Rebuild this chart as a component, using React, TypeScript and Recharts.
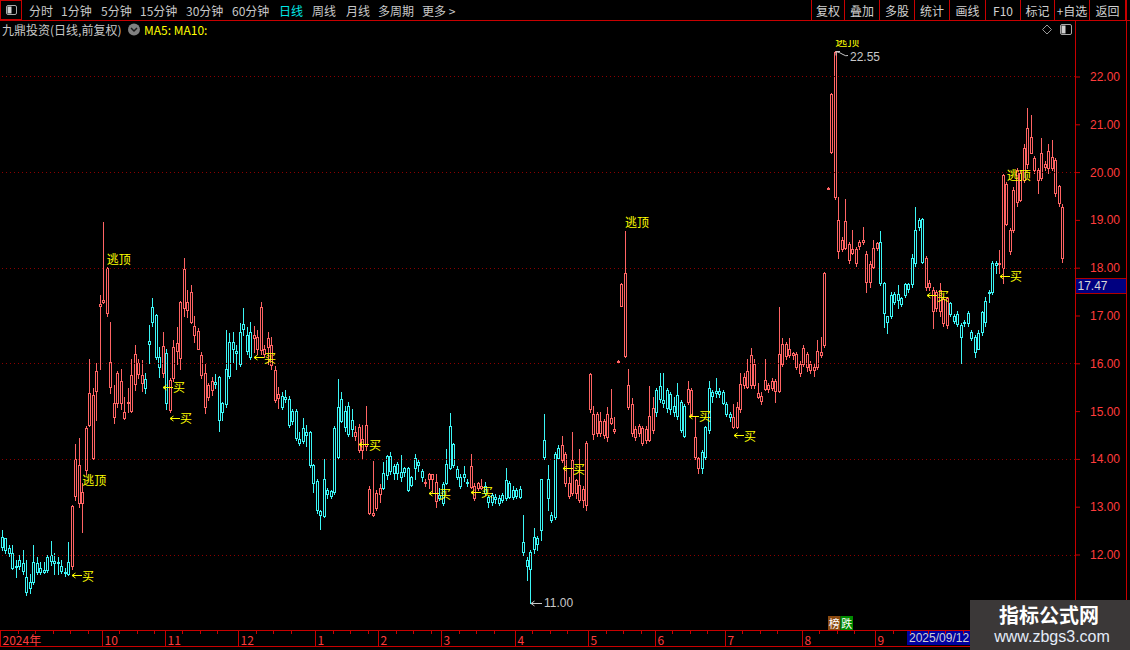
import React from 'react';
import { ComposedChart, Bar, XAxis, YAxis, ReferenceLine, ReferenceDot } from 'recharts';

type Ohlc = [number, number, number, number]; // open, high, low, close

// ---- daily candles (open, high, low, close) ----
const candlesAugNov2024: Ohlc[] = [
  [12.38,12.52,12.10,12.17],[12.35,12.36,12.05,12.10],[12.14,12.20,11.98,12.04],[12.04,12.20,11.70,11.72],[11.78,11.90,11.55,11.74],
  [11.90,12.00,11.70,11.76],[11.83,12.10,11.60,11.67],[11.55,11.90,11.16,11.23],[11.44,11.60,11.20,11.30],[11.86,12.20,11.40,11.44],
  [11.83,11.95,11.60,11.65],[11.72,11.85,11.60,11.65],[11.69,11.85,11.62,11.64],[11.96,12.00,11.65,11.69],[12.00,12.30,11.80,11.87],
  [11.88,12.05,11.60,11.83],[11.86,11.95,11.60,11.83],[11.78,11.90,11.62,11.67],[11.65,11.72,11.57,11.62],[11.86,12.28,11.58,11.60],
  [11.76,13.05,11.70,13.02],[13.23,14.32,13.15,14.00],[13.08,14.45,13.00,13.88],[13.08,13.50,12.49,13.32],[13.78,14.70,13.70,14.65],
  [14.72,16.09,14.70,15.38],[14.02,15.50,14.00,15.35],[15.44,16.02,14.82,15.85],[17.20,17.44,15.90,17.25],[17.30,18.97,17.28,17.33],
  [17.06,18.02,17.00,18.00],[15.52,16.88,15.38,16.04],[14.89,15.56,14.76,15.19],[15.17,15.85,15.10,15.80],[15.17,15.90,15.05,15.63],
  [14.86,15.30,14.85,15.00],[15.17,15.50,15.00,15.21],[15.02,16.11,15.00,15.77],[15.58,16.40,15.45,16.20],[15.79,16.10,15.70,16.01],
  [15.60,16.08,15.43,15.77],[15.68,15.80,15.38,15.49],[16.48,16.81,16.01,16.41],[17.18,17.37,16.80,16.88],[17.02,17.05,16.10,16.14],
  [16.15,16.36,15.73,15.93],[15.80,16.66,15.73,16.37],[16.22,16.30,15.05,15.17],[15.04,15.70,15.00,15.66],[15.70,16.50,15.65,16.35],
  [16.26,16.78,16.00,16.43],[16.12,17.32,15.90,17.30],[17.16,18.22,17.00,17.98],[17.13,17.55,16.98,17.30],[16.88,17.65,16.85,17.51],
  [16.60,17.00,16.45,16.80],[16.31,16.75,16.30,16.69],[15.77,16.25,15.70,16.18],[15.10,16.00,14.98,15.81],[15.30,15.60,15.25,15.56],
  [15.45,15.73,15.35,15.63],[15.62,15.78,15.50,15.58],[15.72,15.75,14.60,14.82],[15.17,15.20,14.82,14.99],[15.90,16.71,15.10,15.15],
  [16.46,16.65,15.70,15.74],[16.45,16.66,16.04,16.30],[16.26,16.40,15.90,16.23],[16.66,16.85,15.95,16.00],[16.83,17.16,16.60,16.72],
  [16.60,16.78,16.20,16.27],[16.66,16.87,16.10,16.14],[16.53,16.80,16.25,16.60],[16.32,16.70,16.20,16.57],[16.29,17.30,16.20,17.18],
  [16.20,16.40,16.15,16.31],[16.35,16.67,16.00,16.53],
];

const candlesDec2024Mar2025: Ohlc[] = [
  [15.97,16.57,15.90,16.39],[15.24,15.95,15.20,15.87],[15.28,15.51,15.07,15.36],
  [15.33,15.40,15.05,15.10],[15.31,15.45,15.20,15.26],[15.26,15.32,14.68,14.71],[15.01,15.05,14.75,14.80],[15.01,15.05,14.40,14.44],
  [14.42,14.58,14.30,14.35],[14.65,14.86,14.35,14.39],[14.57,14.73,14.29,14.51],[14.57,14.60,13.85,13.88],[13.88,13.90,13.32,13.50],
  [13.55,13.60,12.87,12.94],[12.93,12.95,12.54,12.84],[13.58,14.01,12.80,12.82],[13.37,13.40,13.20,13.27],[13.34,13.36,13.20,13.23],
  [14.65,14.70,13.28,13.31],[15.09,15.68,14.02,14.06],[15.26,15.42,14.78,14.81],[15.02,15.12,14.60,14.68],[15.12,15.20,14.50,14.53],
  [14.82,15.05,14.50,14.63],[14.50,14.70,14.40,14.57],[14.20,14.75,14.15,14.68],[14.20,14.73,14.02,14.42],[14.27,15.12,14.20,14.72],
  [12.87,13.45,12.85,13.39],[12.84,13.97,12.82,12.88],[12.99,13.35,12.95,13.29],[13.27,13.49,13.10,13.41],[13.71,13.95,13.38,13.41],
  [14.07,14.10,13.60,13.67],[14.07,14.15,13.70,13.76],[13.87,13.90,13.60,13.72],[13.90,13.95,13.60,13.72],[13.74,14.10,13.55,13.63],
  [13.81,13.85,13.65,13.74],[13.81,13.85,13.33,13.37],[13.63,13.66,13.44,13.46],[14.02,14.11,13.60,13.81],[13.94,14.00,13.75,13.88],
  [13.76,13.80,13.55,13.64],[13.50,13.60,13.45,13.53],[13.59,13.72,13.40,13.69],[13.59,13.70,13.30,13.69],[13.12,13.70,13.00,13.52],
  [13.26,13.40,13.15,13.19],[13.49,13.52,13.05,13.08],[13.90,14.21,13.48,13.50],[14.70,14.97,13.80,13.83],[14.32,14.35,13.85,13.88],
  [13.79,13.87,13.60,13.64],[13.64,13.69,13.40,13.45],[13.69,13.87,13.55,13.63],[13.53,13.60,13.45,13.50],[13.43,14.11,13.40,13.87],
  [13.19,13.50,13.15,13.44],[13.40,13.53,13.35,13.50],[13.41,13.60,13.38,13.44],[13.44,13.52,13.25,13.29],[13.22,13.25,13.00,13.11],
  [13.26,13.30,13.05,13.11],[13.22,13.27,13.08,13.17],[13.20,13.25,13.05,13.08],[13.26,13.30,13.10,13.15],[13.57,13.81,13.15,13.19],
  [13.50,13.55,13.20,13.22],[13.37,13.45,13.18,13.22],[13.37,13.40,13.20,13.23],[13.39,13.45,13.20,13.22],
];

const candlesAprAug2025: Ohlc[] = [
  [12.27,12.84,12.00,12.06],
  [11.90,11.95,11.48,11.76],[12.07,12.10,11.00,11.70],[12.37,12.56,12.05,12.12],[12.35,12.40,12.10,12.23],[13.58,13.60,12.31,12.52],
  [14.41,14.95,14.00,14.04],[13.58,13.88,12.94,13.19],[12.84,12.90,12.70,12.73],[14.11,14.15,12.75,12.79],[14.23,14.30,14.00,14.02],
  [13.99,14.49,13.95,14.30],[13.50,14.15,13.45,14.11],[13.23,13.64,13.20,13.51],[13.30,14.58,13.25,13.99],[13.29,13.60,13.20,13.57],
  [13.15,14.21,13.10,13.46],[13.15,13.45,13.00,13.39],[13.05,14.38,12.95,14.35],[15.05,15.80,15.00,15.78],[14.53,15.12,14.42,14.96],
  [14.55,15.00,14.50,14.96],[14.55,15.00,14.50,14.80],[14.51,14.85,14.45,14.81],[14.47,15.09,14.38,14.94],[14.77,15.47,14.75,14.86],
  [14.60,14.88,14.55,14.63],[16.04,16.07,16.03,16.06],[17.21,17.68,17.20,17.66],[16.17,18.78,16.15,17.89],[15.09,15.89,15.05,15.56],
  [14.55,15.29,14.50,15.16],[14.47,14.70,14.40,14.63],[14.55,14.75,14.50,14.70],[14.35,14.70,14.30,14.66],[14.41,14.70,14.35,14.63],
  [14.41,15.54,14.38,14.91],[14.61,15.30,14.55,15.07],[15.45,15.50,14.90,14.99],[15.54,15.80,15.20,15.26],[15.24,15.80,15.10,15.17],
  [15.45,15.50,15.00,15.07],[15.36,15.40,14.95,15.05],[15.12,15.30,14.90,14.99],[15.35,15.59,14.85,14.91],[15.21,15.25,14.58,14.61],
  [15.12,15.15,14.47,14.50],[15.21,15.63,15.15,15.47],[14.93,15.50,14.90,15.45],[14.06,14.91,14.00,14.46],[13.83,14.05,13.71,14.02],
  [14.16,14.20,13.71,13.81],[14.68,14.70,14.00,14.06],[15.49,15.63,14.55,14.61],[15.40,15.45,15.20,15.33],[15.44,15.70,15.30,15.38],
  [15.44,15.50,15.30,15.37],[15.40,15.45,15.15,15.17],[15.16,15.20,14.90,14.94],[14.96,15.00,14.80,14.89],[14.68,15.15,14.65,14.89],
  [14.68,15.20,14.65,15.10],[15.05,15.80,15.00,15.57],[15.55,15.80,15.50,15.72],[15.52,16.11,15.50,15.84],[15.56,16.33,15.50,16.19],
  [15.55,16.10,15.50,16.00],[15.31,15.60,15.28,15.38],[15.22,15.40,15.15,15.33],[15.47,16.11,15.45,15.66],[15.47,15.60,15.40,15.56],
  [15.49,15.70,15.45,15.64],[15.44,15.68,15.21,15.63],[15.44,17.18,15.40,16.20],[15.99,16.55,15.95,16.41],[16.16,16.45,16.10,16.41],
  [16.18,16.53,16.15,16.30],[16.18,16.25,16.10,16.22],[15.94,16.25,15.90,16.20],[15.80,16.05,15.75,16.00],[15.99,16.40,15.95,16.33],
  [15.93,16.25,15.85,16.20],[15.88,16.05,15.80,16.00],[15.88,16.00,15.75,15.94],[15.94,16.50,15.90,16.27],
];

const candlesAugNov2025: Ohlc[] = [
  [16.18,16.57,16.15,16.25],[16.39,17.92,16.35,17.89],[19.66,19.69,19.65,19.68],[20.44,21.66,20.40,21.64],[19.48,22.55,19.45,22.53],
  [18.36,19.48,18.21,19.01],[18.40,18.65,18.35,18.60],[18.42,19.45,18.40,18.99],[18.17,18.55,18.10,18.50],[18.32,18.80,18.30,18.40],
  [18.10,18.45,18.05,18.40],[18.46,18.60,18.40,18.55],[18.55,18.87,18.50,18.59],[17.72,18.35,17.51,18.30],[17.72,18.15,17.60,18.09],
  [18.03,18.60,18.00,18.42],[18.42,18.55,18.38,18.52],[18.54,18.78,17.65,17.70],[17.70,17.72,16.76,17.06],[16.99,17.00,16.64,16.88],
  [17.44,17.50,16.95,16.99],[17.47,17.50,17.25,17.30],[17.46,17.65,17.16,17.33],[17.37,17.40,17.20,17.25],[17.67,17.70,17.40,17.44],
  [17.66,17.70,17.50,17.56],[18.22,18.30,17.60,17.67],[18.80,19.29,18.05,18.10],[19.01,19.05,18.80,18.86],[19.02,19.05,18.10,18.12],
  [17.61,18.25,17.55,18.21],[17.60,17.75,17.55,17.70],[17.10,17.60,16.74,17.54],[17.16,17.55,17.10,17.51],[17.10,17.70,17.00,17.54],
  [16.85,17.40,16.80,17.35],[16.81,17.40,16.75,17.37],[17.28,17.30,17.00,17.04],[16.99,17.05,16.85,16.90],[17.04,17.10,16.80,16.83],
  [16.81,16.85,16.01,16.57],[16.88,16.92,16.80,16.85],[17.06,17.10,16.80,16.85],[16.67,16.70,16.50,16.53],[16.57,16.60,16.15,16.25],
  [16.65,16.70,16.30,16.32],[17.09,17.10,16.60,16.67],[17.31,17.40,16.80,16.88],[17.51,17.55,17.30,17.49],[18.10,18.15,17.45,17.51],
  [18.10,18.15,17.90,18.07],[18.08,18.38,17.90,18.10],[18.00,19.97,17.70,19.94],[18.92,19.80,18.90,19.76],[18.37,18.85,18.30,18.80],
  [18.80,19.70,18.75,19.64],[19.39,20.10,19.30,20.05],[19.43,20.05,19.40,19.99],[19.85,20.60,19.80,20.51],[20.19,21.35,20.10,20.93],
  [20.42,21.20,20.40,20.75],[20.05,20.35,20.00,20.31],[19.85,20.10,19.57,20.05],[19.88,20.73,19.85,20.40],[20.11,20.25,20.05,20.19],
  [20.09,20.60,20.00,20.46],[20.10,20.68,20.05,20.32],[19.57,20.30,19.50,20.26],[19.36,19.75,19.30,19.71],[18.21,19.35,18.14,19.29],
];

// x-axis: month start candles and labels
const monthStarts = [0, 29, 47, 68, 90, 108, 126, 147, 168, 187, 207, 229, 250];
const monthLabels = ['2024年', '10', '11', '12', '1', '2', '3', '4', '5', '6', '7', '8', '9'];

// y-axis
const priceTicks = [12, 13, 14, 15, 16, 17, 18, 19, 20, 21, 22];
const gridPrices = [12, 14, 16, 18, 20, 22];

// signals
const buyIdx = [20, 46, 48, 72, 102, 122, 134, 160, 196, 209, 264, 285];
const buyPrice = [11.58, 15.52, 14.87, 16.14, 14.32, 13.29, 13.32, 13.82, 14.91, 14.51, 17.43, 17.84];
const topIdx = [23, 30, 178, 238, 287];
const topPrice = [13.57, 18.2, 18.97, 22.77, 19.95];

const rankIdx = 236;
const rankPrice = 10.58;
const cursorIdx = 259;
const cursorDate = '2025/09/12';
const lastPrice = 17.47;

// ---- layout / style ----
const SLOTS = 307;
const PLOT_W = 1075;
const BAND = PLOT_W / SLOTS;
const Y_MIN = 10.431;
const Y_MAX = 22.774;
const UP = '#ff6464';
const DOWN = '#3cf5f5';
const AXIS_RED = '#c80000';
const LABEL_RED = '#ff3c3c';
const GRID_RED = '#8c0000';
const YELLOW = '#ffff00';
const GRAY = '#c8c8c8';
const CJK = "'Noto Sans CJK SC', 'Noto Sans', sans-serif";
const SANS = "'Liberation Sans', Arial, sans-serif";

const allCandles: Ohlc[] = [...candlesAugNov2024, ...candlesDec2024Mar2025, ...candlesAprAug2025, ...candlesAugNov2025];

const rows = Array.from({ length: SLOTS }, (_, i) => {
  const c = allCandles[i];
  return c ? { i, o: c[0], h: c[1], l: c[2], c: c[3], range: [c[2], c[1]] } : { i, range: null };
});

let hiIdx = 0, loIdx = 0;
allCandles.forEach((c, i) => {
  if (c[1] > allCandles[hiIdx][1]) hiIdx = i;
  if (c[2] < allCandles[loIdx][2]) loIdx = i;
});

const minorTicks: number[] = [];
monthStarts.forEach((m, k) => {
  const end = k + 1 < monthStarts.length ? monthStarts[k + 1] : allCandles.length;
  for (let t = m + 5; t < end - 2; t += 5) minorTicks.push(t);
});
const xTicks = [...monthStarts, ...minorTicks].sort((a, b) => a - b);

const CandleShape = (props: any) => {
  const { x, y, width, height, payload } = props;
  if (!payload || payload.o == null || !isFinite(y) || !isFinite(height)) return <g />;
  const { o, h, l, c } = payload;
  const yTop = Math.min(y, y + height);
  const k = Math.abs(height) / (h - l);
  const py = (p: number) => yTop + (h - p) * k;
  const cx = Math.floor(x + width / 2);
  const color = c >= o ? UP : DOWN;
  const bt = Math.round(py(Math.max(o, c)));
  const bb = Math.round(py(Math.min(o, c)));
  return (
    <g>
      <line x1={cx + 0.5} x2={cx + 0.5} y1={Math.round(py(h))} y2={Math.round(py(l)) + 1} stroke={color} strokeWidth={1} />
      {bb - bt < 1 ? (
        <line x1={cx - 1} x2={cx + 2} y1={bt + 0.5} y2={bt + 0.5} stroke={color} strokeWidth={1} />
      ) : (
        <rect x={cx - 0.5} y={bt + 0.5} width={2} height={bb - bt} fill="#000" stroke={color} strokeWidth={1} />
      )}
    </g>
  );
};

const MonthTick = (p: any) => {
  const idx = Number(p.payload.value);
  const bx = Math.round(p.x - BAND / 2) + 0.5;
  const mi = monthStarts.indexOf(idx);
  const top = 631;
  if (mi < 0) return <line x1={bx} x2={bx} y1={top} y2={top + 3} stroke={AXIS_RED} />;
  return (
    <g>
      <line x1={bx} x2={bx} y1={top} y2={top + 15} stroke={AXIS_RED} />
      <text x={bx + 2} y={top + 8} dominantBaseline="central" fill={LABEL_RED} fontSize={12} fontFamily={CJK}>
        {monthLabels[mi]}
      </text>
    </g>
  );
};

const PriceTick = (p: any) => (
  <text x={p.x} y={p.y} dominantBaseline="central" fill={LABEL_RED} fontSize={12} fontFamily={SANS}>
    {Number(p.payload.value).toFixed(2)}
  </text>
);

const BuyMark = ({ cx, cy }: any) => {
  const x0 = Math.floor(cx) + 1;
  const y0 = Math.round(cy) + 0.5;
  return (
    <g>
      <line x1={x0} x2={x0 + 10} y1={y0} y2={y0} stroke={YELLOW} />
      <path d={`M${x0 + 3.5} ${y0 - 2.5} L${x0} ${y0} L${x0 + 3.5} ${y0 + 2.5}`} stroke={YELLOW} fill="none" />
      <text x={x0 + 10} y={cy} dominantBaseline="central" fill={YELLOW} fontSize={12} fontFamily={CJK}>买</text>
    </g>
  );
};

const TopMark = ({ cx, cy }: any) => (
  <text x={cx} y={cy} dominantBaseline="central" fill={YELLOW} fontSize={12} fontFamily={CJK}>逃顶</text>
);

const HighMark = ({ cx, cy, value }: any) => {
  const x0 = Math.floor(cx) + 1;
  const y0 = Math.round(cy) + 0.5;
  return (
    <g>
      <path d={`M${x0} ${y0 + 4} L${x0} ${y0} L${x0 + 4} ${y0}`} stroke={GRAY} fill="none" />
      <path d={`M${x0} ${y0} Q${x0 + 4} ${y0 + 1} ${x0 + 7} ${y0 + 3} T${x0 + 12} ${y0 + 4}`} stroke={GRAY} fill="none" />
      <text x={x0 + 14} y={cy + 6} dominantBaseline="central" fill={GRAY} fontSize={12} fontFamily={SANS}>{value.toFixed(2)}</text>
    </g>
  );
};

const LowMark = ({ cx, cy, value }: any) => {
  const x0 = Math.floor(cx) + 1;
  const y0 = Math.round(cy) + 0.5;
  return (
    <g>
      <line x1={x0} x2={x0 + 11} y1={y0} y2={y0} stroke={GRAY} />
      <path d={`M${x0 + 3.5} ${y0 - 2.5} L${x0} ${y0} L${x0 + 3.5} ${y0 + 2.5}`} stroke={GRAY} fill="none" />
      <text x={x0 + 13} y={cy} dominantBaseline="central" fill={GRAY} fontSize={12} fontFamily={SANS}>{value.toFixed(2)}</text>
    </g>
  );
};

const RankMark = ({ cx, cy }: any) => {
  const x0 = Math.round(cx);
  const y0 = Math.round(cy) - 7;
  return (
    <g>
      <rect x={x0} y={y0} width={12.5} height={14} fill="#8a4a10" />
      <rect x={x0 + 12.5} y={y0} width={12.5} height={14} fill="#008a00" />
      <text x={x0 + 6.25} y={y0 + 7} textAnchor="middle" dominantBaseline="central" fill="#fff" fontSize={11} fontFamily={CJK}>榜</text>
      <text x={x0 + 18.75} y={y0 + 7} textAnchor="middle" dominantBaseline="central" fill="#fff" fontSize={11} fontFamily={CJK}>跌</text>
    </g>
  );
};

const CursorDate = ({ cx, cy }: any) => {
  const x0 = Math.round(cx - BAND / 2);
  return (
    <g>
      <rect x={x0} y={cy + 1} width={68} height={14} fill="#0000a0" />
      <text x={x0 + 2} y={cy + 8} dominantBaseline="central" fill="#d0d0d0" fontSize={12} fontFamily={SANS}>{cursorDate}</text>
    </g>
  );
};

const LastPriceBox = ({ cx, cy }: any) => {
  const x0 = Math.round(cx + BAND / 2) + 0.5;
  const yb = Math.round(cy);
  return (
    <g>
      <rect x={x0} y={yb - 15.5} width={51} height={15} fill="#000080" stroke="#b00000" />
      <text x={x0 + 2} y={yb - 8} dominantBaseline="central" fill="#d8d8d8" fontSize={12} fontFamily={SANS}>{lastPrice.toFixed(2)}</text>
    </g>
  );
};

const tabs: [string, number, string][] = [
  ['分时', 29, GRAY], ['1分钟', 61, GRAY], ['5分钟', 101, GRAY], ['15分钟', 140, GRAY], ['30分钟', 186, GRAY],
  ['60分钟', 232, GRAY], ['日线', 279, '#00e8e8'], ['周线', 312, GRAY], ['月线', 346, GRAY], ['多周期', 378, GRAY], ['更多 >', 422, GRAY],
];
const btnEdges = [811, 844, 879, 914, 949, 985, 1020, 1054, 1089, 1125];
const btnLabels = ['复权', '叠加', '多股', '统计', '画线', 'F10', '标记', '+自选', '返回'];

const Overlay = () => (
  <svg width={1130} height={650} style={{ position: 'absolute', left: 0, top: 0, pointerEvents: 'none' }}>
    <rect x={0} y={0} width={1130} height={40} fill="#000" />
    {/* row 1 */}
    <rect x={0.5} y={0.5} width={21} height={19} fill="none" stroke={AXIS_RED} />
    <rect x={6.5} y={5.5} width={10} height={9} rx={1.5} fill="none" stroke="#a8a8a8" />
    <rect x={7.5} y={6.5} width={4} height={7} fill="#d0d0d0" />
    {tabs.map(([t, x, col]) => (
      <text key={t} x={x} y={10} dominantBaseline="central" fill={col} fontSize={12} fontFamily={CJK}>{t}</text>
    ))}
    {btnEdges.map((x) => (
      <line key={x} x1={x + 0.5} x2={x + 0.5} y1={0} y2={20} stroke={AXIS_RED} />
    ))}
    {btnLabels.map((t, k) => (
      <text key={t} x={(btnEdges[k] + btnEdges[k + 1]) / 2 + 0.5} y={10} textAnchor="middle" dominantBaseline="central" fill="#d0d0d0" fontSize={12} fontFamily={CJK}>{t}</text>
    ))}
    <line x1={0} x2={1130} y1={20.5} y2={20.5} stroke={AXIS_RED} />
    {/* row 2 */}
    <text x={2} y={29.5} dominantBaseline="central" fill={GRAY} fontSize={12} fontFamily={CJK}>九鼎投资(日线,前复权)</text>
    <circle cx={134} cy={29.5} r={6} fill="#808080" />
    <path d="M131 28 L134 31 L137 28" stroke="#1a1a1a" strokeWidth={1.5} fill="none" />
    <text x={144} y={29.5} dominantBaseline="central" fill={YELLOW} fontSize={12} fontFamily={CJK}>MA5: MA10:</text>
    <path d="M1047 25 L1051.5 29.5 L1047 34 L1042.5 29.5 Z" stroke="#9a9a9a" fill="none" />
    <rect x={1060.5} y={24.5} width={11} height={10} rx={1.5} fill="none" stroke="#a8a8a8" />
    <rect x={1061.5} y={25.5} width={4} height={8} fill="#d0d0d0" />
    {/* frame lines */}
    <line x1={1075.5} x2={1075.5} y1={20} y2={646} stroke={AXIS_RED} />
    <line x1={1126.5} x2={1126.5} y1={0} y2={631} stroke={AXIS_RED} />
    <line x1={0} x2={1130} y1={630.5} y2={630.5} stroke={AXIS_RED} />
    <line x1={0} x2={1130} y1={646.5} y2={646.5} stroke={AXIS_RED} />
    {/* watermark */}
    <rect x={970} y={600} width={160} height={50} fill="#3b3838" />
    <text x={1049} y={614} textAnchor="middle" dominantBaseline="central" fill="#ffffff" fontSize={20} fontWeight="bold" fontFamily={CJK}>指标公式网</text>
    <text x={1052} y={636} textAnchor="middle" dominantBaseline="central" fill="#e4ecf8" fontSize={16} fontFamily={SANS}>www.zbgs3.com</text>
  </svg>
);

export default function App() {
  return (
    <div style={{ position: 'fixed', left: 0, top: 0, width: 1130, height: 650, background: '#000', overflow: 'hidden' }}>
      <ComposedChart width={1130} height={650} data={rows} margin={{ top: 40, right: 0, bottom: 0, left: 0 }} barCategoryGap={0}>
        <XAxis dataKey="i" type="category" height={20} ticks={xTicks} interval={0} tick={(p: any) => <MonthTick {...p} />} tickLine={false} axisLine={false} />
        <YAxis
          orientation="right"
          width={55}
          type="number"
          domain={[Y_MIN, Y_MAX]}
          allowDataOverflow
          ticks={priceTicks}
          interval={0}
          tick={(p: any) => <PriceTick {...p} />}
          tickSize={5}
          tickMargin={10}
          tickLine={{ stroke: AXIS_RED }}
          axisLine={false}
        />
        {gridPrices.map((v) => (
          <ReferenceLine key={v} y={v} stroke={GRID_RED} strokeDasharray="1 3" shapeRendering="crispEdges" />
        ))}
        <Bar dataKey="range" isAnimationActive={false} shape={(p: any) => <CandleShape {...p} />} />
        {buyIdx.map((ix, k) => (
          <ReferenceDot key={'b' + k} x={ix} y={buyPrice[k]} r={0} ifOverflow="visible" shape={(p: any) => <BuyMark {...p} />} />
        ))}
        {topIdx.map((ix, k) => (
          <ReferenceDot key={'t' + k} x={ix} y={topPrice[k]} r={0} ifOverflow="visible" shape={(p: any) => <TopMark {...p} />} />
        ))}
        <ReferenceDot x={hiIdx} y={allCandles[hiIdx][1]} r={0} ifOverflow="visible" shape={(p: any) => <HighMark {...p} value={allCandles[hiIdx][1]} />} />
        <ReferenceDot x={loIdx} y={allCandles[loIdx][2]} r={0} ifOverflow="visible" shape={(p: any) => <LowMark {...p} value={allCandles[loIdx][2]} />} />
        <ReferenceDot x={rankIdx} y={rankPrice} r={0} ifOverflow="visible" shape={(p: any) => <RankMark {...p} />} />
        <ReferenceDot x={cursorIdx} y={Y_MIN} r={0} ifOverflow="visible" shape={(p: any) => <CursorDate {...p} />} />
        <ReferenceDot x={SLOTS - 1} y={lastPrice} r={0} ifOverflow="visible" shape={(p: any) => <LastPriceBox {...p} />} />
      </ComposedChart>
      <Overlay />
    </div>
  );
}
